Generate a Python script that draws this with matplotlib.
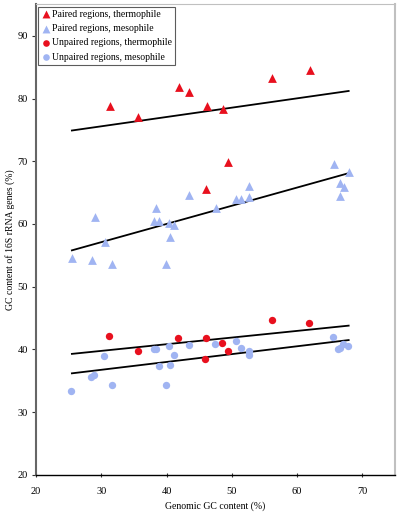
import matplotlib.pyplot as plt

plt.rcParams['font.family'] = ['Liberation Serif', 'DejaVu Serif']

# Paired regions, thermophile
pt_x = [31.3, 35.7, 41.9, 43.5, 46.2, 48.6, 56.2, 62.0, 49.4, 46.0]
pt_y = [78.8, 77.1, 81.9, 81.0, 78.8, 78.4, 83.2, 84.6, 69.9, 65.6]

# Paired regions, mesophile
pm_x = [25.5, 28.6, 29.0, 30.5, 31.7, 38.4, 38.1, 38.9, 40.4, 41.1, 39.9, 40.6,
        43.5, 47.5, 50.6, 51.4, 52.7, 52.7, 65.6, 67.9, 66.6, 67.2, 66.5]
pm_y = [54.6, 54.2, 61.1, 57.2, 53.7, 62.5, 60.4, 60.5, 60.2, 59.8, 53.7, 58.0,
        64.7, 62.6, 64.0, 64.0, 64.3, 66.0, 69.5, 68.3, 66.5, 65.9, 64.5]

# Unpaired regions, thermophile
ut_x = [31.2, 35.6, 41.8, 46.1, 48.5, 49.4, 45.9, 56.2, 61.9]
ut_y = [42.1, 39.8, 41.9, 41.8, 41.1, 39.7, 38.5, 44.7, 44.2]

# Unpaired regions, mesophile
um_x = [25.4, 28.5, 28.9, 30.4, 31.6, 38.1, 38.4, 38.8, 40.3, 40.5, 41.1, 39.9,
        43.4, 47.4, 50.7, 51.4, 52.6, 52.6, 65.5, 66.3, 66.6, 67.1, 67.8]
um_y = [33.4, 35.6, 36.0, 38.9, 34.4, 40.1, 40.0, 37.4, 40.6, 37.5, 39.2, 34.4,
        40.7, 40.8, 41.4, 40.3, 39.7, 39.1, 42.0, 40.0, 40.2, 40.9, 40.6]

# trend lines (end points)
line_x = [25.5, 67.9]
pt_line = [74.9, 81.2]
pm_line = [55.8, 68.1]
ut_line = [39.3, 43.8]
um_line = [36.2, 41.5]

red = '#e8101e'
blue = '#a0b4f2'

fig = plt.figure(figsize=(4, 5.16), dpi=100)
ax = fig.add_axes([0.09, 0.0795, 0.8975, 0.912])

for ly in (pt_line, pm_line, ut_line, um_line):
    ax.plot(line_x, ly, color='black', lw=1.3, zorder=2)

ax.scatter(pt_x, pt_y, marker='^', s=40, color=red, lw=0, label='Paired regions, thermophile', zorder=3)
ax.scatter(pm_x, pm_y, marker='^', s=40, color=blue, lw=0, label='Paired regions, mesophile', zorder=3)
ax.scatter(ut_x, ut_y, marker='o', s=28, color=red, lw=0, label='Unpaired regions, thermophile', zorder=3)
ax.scatter(um_x, um_y, marker='o', s=28, color=blue, lw=0, label='Unpaired regions, mesophile', zorder=3)

ax.set_xlim(20, 75)
ax.set_ylim(20, 95)
ax.set_xticks(range(20, 71, 10))
ax.set_yticks(range(20, 91, 10))
ax.tick_params(axis='both', labelsize=7.5, length=3, width=0.8, color='#333333')
ax.tick_params(axis='x', direction='inout', pad=7)
ax.tick_params(axis='y', direction='out', pad=3)

ax.spines['left'].set_color('#666666')
ax.spines['left'].set_linewidth(1.5)
ax.spines['bottom'].set_color('black')
ax.spines['bottom'].set_linewidth(1.0)
ax.spines['top'].set_color('#c0c0c0')
ax.spines['right'].set_color('#c0c0c0')
ax.spines['right'].set_linewidth(1.5)

ax.set_xlabel('Genomic GC content (%)', fontsize=7, labelpad=4)
ax.set_ylabel('GC content of 16S rRNA genes (%)', fontsize=7)
ax.yaxis.set_label_coords(-0.058, 0.5)

leg = ax.legend(loc='upper left', fontsize=7, frameon=True, fancybox=False,
                edgecolor='#333333', handletextpad=0.1, handlelength=1.0,
                borderpad=0.3, labelspacing=0.55, borderaxespad=0.25,
                scatterpoints=1, markerscale=0.9)
leg.get_frame().set_linewidth(0.8)

fig.savefig('out.png', dpi=100)
